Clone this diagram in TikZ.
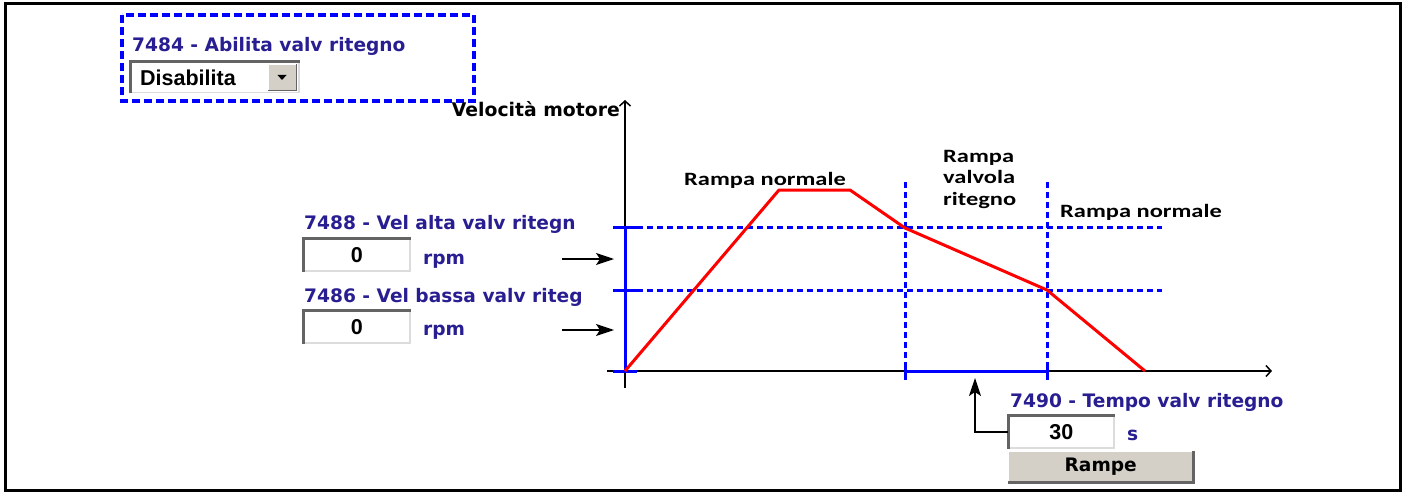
\documentclass[tikz,border=0pt]{standalone}
\usepackage{fontspec}
\setmainfont{DejaVu Sans}
\newfontfamily\arialfont{Liberation Sans}
\newfontfamily\rampfont[FakeStretch=1.3]{Carlito}
\usetikzlibrary{positioning,arrows.meta}
\definecolor{navy}{RGB}{40,30,145}
\definecolor{wingray}{RGB}{212,208,200}
\definecolor{winshadow}{RGB}{100,100,100}
\definecolor{winlight}{RGB}{220,220,220}

\begin{document}
\begin{tikzpicture}[x=1pt, y=-1pt]
    \tikzstyle{param} = [anchor=base west, inner sep=0pt, text=navy,
        font=\fontsize{18.6}{21}\selectfont\bfseries]
    \tikzstyle{field} = [anchor=north west, draw=winlight, line width=1.5pt,
        fill=white, minimum width=106pt, minimum height=32pt, inner sep=0pt,
        font=\arialfont\fontsize{21.5}{24}\selectfont\bfseries]
    \tikzstyle{sunken} = [winshadow, line width=3pt]
    \tikzstyle{ramp} = [anchor=base west, inner sep=0pt, align=left,
        font=\rampfont\bfseries\fontsize{18.8}{21.5}\selectfont]
    \tikzstyle{guide} = [blue, line width=3pt, dash pattern=on 6pt off 4pt]
    \tikzstyle{level} = [blue, line width=3pt]
    \tikzstyle{arrow} = [line width=1.5pt,
        -{Stealth[length=18pt, width=12pt, inset=4pt]}]

    \useasboundingbox (0,0) rectangle (1410,492);
    \draw[line width=3pt] (5,4) rectangle (1400,490);

    % abilitazione
    \draw[blue, line width=3.5pt, dash pattern=on 8pt off 4pt]
        (122,15) rectangle (474,101);
    \node (enLab) [param] at (132,52) {7484 - Abilita valv ritegno};
    \node (combo) [field, minimum width=168pt, minimum height=30pt] at (130,62) {};
    \draw[sunken] (combo.south west) |- (combo.north east);
    \node (comboTxt) [anchor=base west, inner sep=0pt,
        font=\arialfont\fontsize{21.5}{24}\selectfont\bfseries] at (140,86) {Disabilita};
    \node (comboBtn) [anchor=north west, fill=wingray, minimum width=28pt,
        minimum height=26pt, inner sep=0pt] at (268,64) {};
    \draw[white, line width=1.5pt] (comboBtn.south west) |- (comboBtn.north east);
    \draw[winshadow, line width=1.5pt] (comboBtn.south west) -| (comboBtn.north east);
    \fill (277.5,75) -- (286.5,75) -- (282,80) -- cycle;

    % assi
    \coordinate (yBot) at (625,388);
    \coordinate (yTop) at (625,100);
    \coordinate (xL) at (607,371);
    \coordinate (xR) at (1272,371);
    \draw[line width=1.5pt, -{Straight Barb[length=5pt, width=11pt]}] (yBot) -- (yTop);
    \draw[line width=1.5pt, -{Straight Barb[length=5pt, width=11pt]}] (xL) -- (xR);
    \node (yLab) [anchor=base east, inner sep=0pt,
        font=\fontsize{18.8}{21}\selectfont\bfseries] at (620,117) {Velocità motore};

    % livelli di velocita e tempo
    \draw[level] (625,227) -- (625,371);
    \foreach \y in {227,290,371}
        \draw[level] (613,\y) -- (637,\y);
    \foreach \y in {227,290}
        \draw[guide] (637,\y) -- (1162,\y);
    \foreach \x in {905,1047} {
        \draw[guide] (\x,182) -- (\x,362);
        \draw[level] (\x,362) -- (\x,380);
    }
    \draw[level] (905,371) -- (1047,371);

    % profilo
    \draw[red, line width=3pt, line join=round]
        (625,371) -- (779,190) -- (850,190) -- (905,228) -- (1047,290) -- (1145,371);

    \node (rn1) [ramp] at (684,185) {Rampa normale};
    \node (rv) [ramp, anchor=north west] at (943,150) {Rampa\\valvola\\ritegno};
    \node (rn2) [ramp] at (1060,217) {Rampa normale};

    % parametri velocita
    \node (vhLab) [param] at (304,229) {7488 - Vel alta valv ritegn};
    \node (vh) [field] at (303,238) {0};
    \draw[sunken] (vh.south west) |- (vh.north east);
    \node (vhU) [param] at (423,264) {rpm};
    \node (vlLab) [param] at (304,302) {7486 - Vel bassa valv riteg};
    \node (vl) [field] at (303,310) {0};
    \draw[sunken] (vl.south west) |- (vl.north east);
    \node (vlU) [param] at (423,335) {rpm};

    \coordinate (vhIn) at (562,259);
    \coordinate (vhAx) at (614,259);
    \coordinate (vlIn) at (562,330);
    \coordinate (vlAx) at (614,330);
    \draw[arrow] (vhIn) -- (vhAx);
    \draw[arrow] (vlIn) -- (vlAx);

    % parametro tempo
    \node (tvLab) [param] at (1010,407) {7490 - Tempo valv ritegno};
    \node (tv) [field, minimum width=105pt] at (1008,415) {30};
    \draw[sunken] (tv.south west) |- (tv.north east);
    \node (tvU) [param] at (1127,440) {s};
    \coordinate (tvAx) at (975,378);
    \draw[arrow] (tv.west) -| (tvAx);

    \node (rampe) [anchor=north west, fill=wingray, minimum width=185pt,
        minimum height=31pt, inner sep=0pt,
        font=\fontsize{18.6}{21}\selectfont\bfseries] at (1008,451) {Rampe};
    \draw[white, line width=1.5pt] (rampe.south west) |- (rampe.north east);
    \draw[winshadow, line width=3pt] (rampe.south west) -| (rampe.north east);
\end{tikzpicture}
\end{document}
